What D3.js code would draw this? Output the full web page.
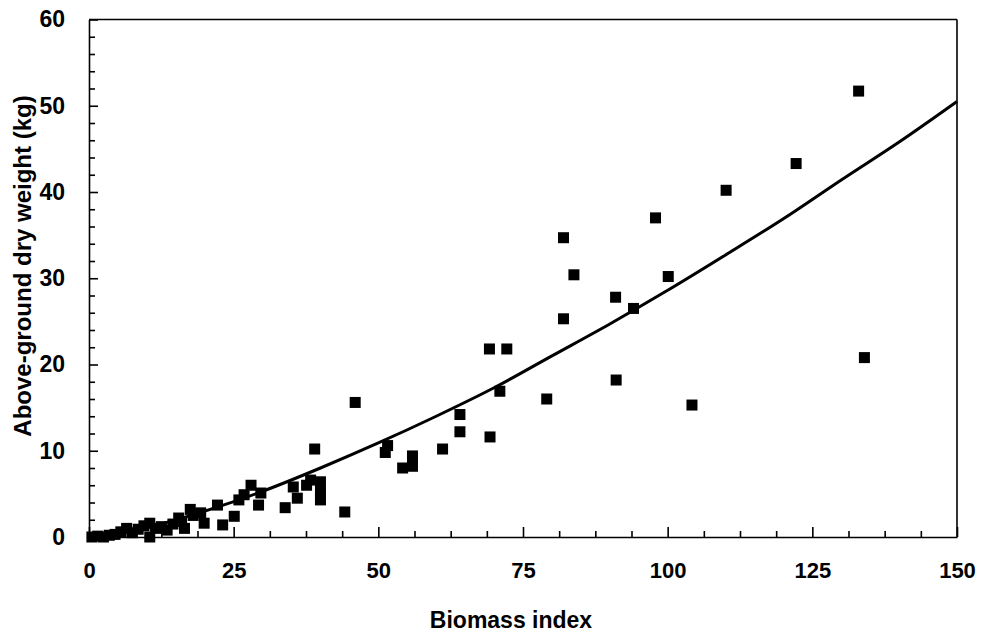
<!DOCTYPE html>
<html>
<head>
<meta charset="utf-8">
<script src="https://cdn.jsdelivr.net/npm/d3@7"></script>
<style>
  html, body { margin: 0; padding: 0; background: #fff; }
  svg { display: block; font-family: "Liberation Sans", Arial, sans-serif; font-weight: bold; }
  .axis path, .axis line { stroke: #000; stroke-width: 1.6px; }
  .axis text { fill: #000; font-weight: bold; }
</style>
</head>
<body>
<div id="chart"></div>
<script>
const biomassIndex = [
  0.5, 1.5, 2.5, 3.5, 4.5, 5.5, 6.5, 7.5, 8.5, 9.5, 10.5, 10.5, 11.5, 12.5, 13.5, 14.5, 15.5, 16, 16.5,
  17.5, 18, 19.3, 19.9, 22.2, 23.1, 25.1, 25.9, 26.8, 28, 29.3, 29.7,
  33.9, 35.3, 36, 37.6, 38.3, 39, 40, 40, 40, 44.2, 46,
  51.2, 51.6, 54.2, 55.9, 55.9, 61.1, 64.1, 64.1, 69.2, 69.3, 71, 72.2,
  79.1, 82, 82, 83.8, 91, 91.1, 94.1, 97.9, 100.1, 104.2, 110.1, 122.2, 133, 134
]
const dryWeight = [
  0.0, 0.1, 0.0, 0.2, 0.3, 0.6, 1.0, 0.5, 0.9, 1.3, 1.6, 0.0, 1.0, 1.2, 0.8, 1.5, 2.2, 1.8, 1.0,
  3.2, 2.5, 2.8, 1.6, 3.7, 1.4, 2.4, 4.3, 4.9, 6.0, 3.7, 5.1,
  3.4, 5.8, 4.5, 6.0, 6.6, 10.2, 6.4, 5.2, 4.3, 2.9, 15.6,
  9.8, 10.6, 8.0, 9.4, 8.2, 10.2, 14.2, 12.2, 21.8, 11.6, 16.9, 21.8,
  16.0, 34.7, 25.3, 30.4, 27.8, 18.2, 26.5, 37.0, 30.2, 15.3, 40.2, 43.3, 51.7, 20.8
]

// fitted curve
const fitX = [0, 10, 20, 30, 40, 50, 60, 70, 80, 90, 100, 110, 120, 130, 140, 150]
const fitY = [0, 1.1, 3.0, 5.3, 8.0, 10.9, 14.0, 17.3, 21.0, 24.7, 28.6, 32.7, 36.9, 41.4, 45.8, 50.5]

const xTicks = [0, 25, 50, 75, 100, 125, 150]
const yTicks = [0, 10, 20, 30, 40, 50, 60]

const width = 988
const height = 635
const margin = { top: 19.5, right: 31, bottom: 98, left: 89 }
const plotW = width - margin.left - margin.right
const plotH = height - margin.top - margin.bottom

const scaleX = d3.scaleLinear().domain([0, 150]).range([0, plotW])
const scaleY = d3.scaleLinear().domain([0, 60]).range([plotH, 0])

const svg = d3.select('#chart').append('svg')
  .attr('width', width)
  .attr('height', height)

const g = svg.append('g')
  .attr('transform', `translate(${margin.left}, ${margin.top})`)

// frame top / right
g.append('line')
  .attr('x1', 0).attr('x2', plotW).attr('y1', 0).attr('y2', 0)
  .attr('stroke', '#000').attr('stroke-width', 1.6)
g.append('line')
  .attr('x1', plotW).attr('x2', plotW).attr('y1', 0).attr('y2', plotH)
  .attr('stroke', '#000').attr('stroke-width', 1.6)

// minor ticks
const xMinor = d3.range(0, 150.01, 6.25).filter(v => v % 25 !== 0)
const yMinor = d3.range(0, 60.01, 2).filter(v => v % 10 !== 0)

g.append('g')
  .attr('class', 'axis')
  .attr('transform', `translate(0, ${plotH})`)
  .call(d3.axisBottom(scaleX).tickValues(xMinor).tickSize(-6).tickFormat(''))
  .call(s => s.select('.domain').remove())

g.append('g')
  .attr('class', 'axis')
  .call(d3.axisLeft(scaleY).tickValues(yMinor).tickSize(-6).tickFormat(''))
  .call(s => s.select('.domain').remove())

// major axes
const xAxis = g.append('g')
  .attr('class', 'axis axis--x')
  .attr('transform', `translate(0, ${plotH})`)
  .call(d3.axisBottom(scaleX).tickValues(xTicks).tickSize(-10).tickSizeOuter(0).tickPadding(25))
xAxis.selectAll('text').style('font-size', '22px')

const yAxis = g.append('g')
  .attr('class', 'axis axis--y')
  .call(d3.axisLeft(scaleY).tickValues(yTicks).tickSize(-9).tickSizeOuter(0).tickPadding(24))
yAxis.selectAll('text').style('font-size', '23px')

// fitted curve
const fitData = fitX.map((x, i) => [x, fitY[i]])
const line = d3.line()
  .x(d => scaleX(d[0]))
  .y(d => scaleY(d[1]))
  .curve(d3.curveMonotoneX)

g.append('path')
  .datum(fitData)
  .attr('fill', 'none')
  .attr('stroke', '#000')
  .attr('stroke-width', 3)
  .attr('d', line)

// points
const size = 11
const points = biomassIndex.map((x, i) => ({ x: x, y: dryWeight[i] }))

g.selectAll('.pt')
  .data(points)
  .enter().append('rect')
  .attr('class', 'pt')
  .attr('x', d => scaleX(d.x) - size / 2)
  .attr('y', d => scaleY(d.y) - size / 2)
  .attr('width', size)
  .attr('height', size)
  .attr('fill', '#000')

// axis titles
svg.append('text')
  .attr('x', margin.left + plotW / 2 - 12)
  .attr('y', 628)
  .attr('text-anchor', 'middle')
  .style('font-size', '23px')
  .text('Biomass index')

svg.append('text')
  .attr('transform', `translate(31, 266) rotate(-90)`)
  .attr('text-anchor', 'middle')
  .style('font-size', '24px')
  .text('Above-ground dry weight (kg)')
</script>
</body>
</html>
